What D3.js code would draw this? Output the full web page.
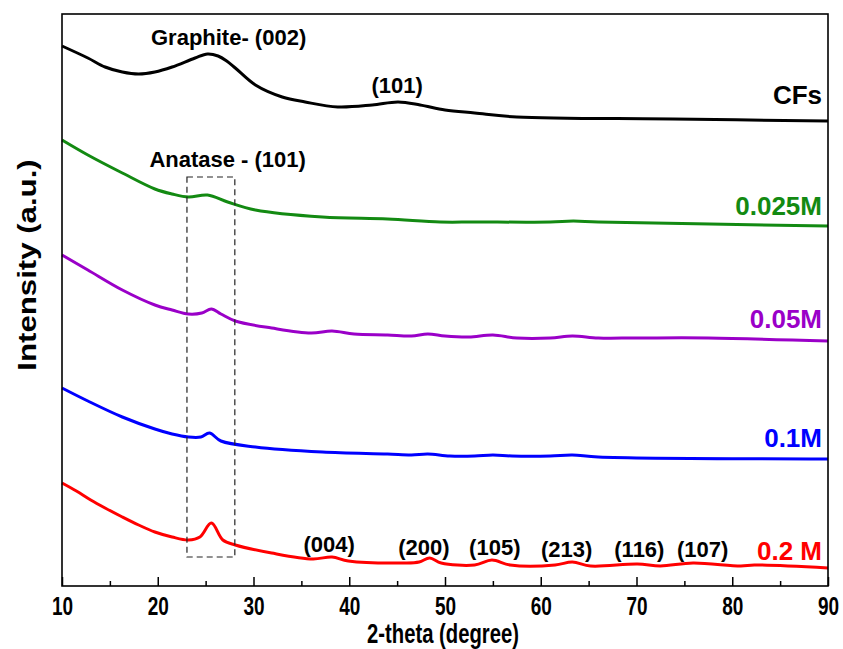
<!DOCTYPE html>
<html>
<head>
<meta charset="utf-8">
<script src="https://cdn.jsdelivr.net/npm/d3@7"></script>
<style>
  html, body { margin: 0; padding: 0; background: #fff; }
  svg text { font-family: "Liberation Sans", Arial, sans-serif; font-weight: bold; }
</style>
</head>
<body>
<div id="chart"></div>
<script>
// 2-theta / intensity (a.u., stacked)
const cfsTheta   = [10, 12.7, 14.5, 16.3, 18.0, 19.7, 21.5, 23.9, 25.2, 26.3, 27.2, 28.1, 30.2, 33.0, 35.4, 38.8, 42.4, 45.1, 47.4, 50, 53.1, 57.5, 73.8, 90];
const cfsInt     = [540, 528, 519, 514, 512, 514, 519, 528, 532, 530, 525, 518, 501, 489, 484, 479, 481, 484, 481, 476, 473, 469, 467, 465];

const m025Theta  = [10, 12.7, 16.3, 19.7, 21.5, 23.2, 25.2, 27.3, 30.2, 37.2, 44.0, 49.5, 53.1, 61, 63.4, 66, 90];
const m025Int    = [446, 431, 413, 397, 392, 389, 391, 384, 376, 369, 367, 364, 364, 364, 365, 364, 360];

const m05Theta   = [10, 12.7, 16.3, 19.7, 21.5, 23.2, 24.6, 25.6, 26.6, 28.1, 31.9, 36.0, 38.2, 40.5, 44.0, 46.5, 48.2, 50, 52.5, 55.0, 57.5, 61, 63.3, 66, 70, 77.5, 90];
const m05Int     = [331, 316, 296, 281, 276, 272, 273, 277, 272, 265, 258, 253, 255, 252, 251, 250, 252, 250, 249, 251, 248, 248, 250, 248, 248, 248, 245];

const m1Theta    = [10, 12.7, 16.3, 19.7, 21.5, 23.2, 24.5, 25.4, 26.6, 30.2, 37.2, 44.0, 46.5, 48.2, 50.5, 53.1, 55.0, 57, 61, 63.3, 66, 90];
const m1Int      = [198, 185, 169, 157, 152, 149, 149, 153, 145, 139, 134, 132, 131, 132, 130, 130, 131, 130, 130, 131, 129, 127];

const m2Theta    = [10, 11.5, 13, 14.5, 16.3, 18, 19.7, 21.5, 23.2, 24.4, 25.6, 26.8, 28.1, 31.9, 36.2, 38.2, 39.9, 45.8, 47.3, 48.4, 49.6, 53.1, 54.9, 56.8, 61.5, 63.3, 65.2, 70.1, 72.5, 75.9, 80.9, 82.3, 90];
const m2Int      = [103, 95, 86, 78, 69, 61, 54, 49, 46, 49, 63, 46, 41, 33, 27, 29, 25, 23, 24, 28, 23, 21, 26, 21, 21, 24, 20, 22, 20, 23, 20, 21, 18];

const seriesNames  = ['CFs', '0.025M', '0.05M', '0.1M', '0.2 M'];
const seriesColors = ['#000000', '#138a12', '#9a00c8', '#0000ff', '#ff0000'];
const seriesTheta  = [cfsTheta, m025Theta, m05Theta, m1Theta, m2Theta];
const seriesInt    = [cfsInt, m025Int, m05Int, m1Int, m2Int];
const nameAnchorInt = [482, 371, 258, 139, 26];

// peak annotations: label, 2-theta, intensity of label baseline
const peakLabels = ['Graphite- (002)', '(101)', 'Anatase - (101)', '(004)', '(200)', '(105)', '(213)', '(116)', '(107)'];
const peakTheta  = [27.4, 45.0, 27.3, 37.9, 47.8, 55.2, 62.7, 70.3, 76.9];
const peakInt    = [541, 493, 419, 34, 31, 31, 29, 29, 29];

// dashed box around anatase (101)
const boxTheta = [23.05, 28.05];
const boxInt   = [29, 409];

const majorTicks = [10, 20, 30, 40, 50, 60, 70, 80, 90];
const minorTicks = [15, 25, 35, 45, 55, 65, 75, 85];

const width = 843, height = 649;
const margin = { top: 14, right: 15, bottom: 63, left: 62 };
const innerWidth = width - margin.left - margin.right;
const innerHeight = height - margin.top - margin.bottom;

const svg = d3.select('#chart').append('svg')
  .attr('width', width)
  .attr('height', height);

const chart = svg.append('g')
  .attr('transform', `translate(${margin.left},${margin.top})`);

const xScale = d3.scaleLinear().domain([10, 90]).range([0, innerWidth]);
const yScale = d3.scaleLinear().domain([0, 572]).range([innerHeight, 0]);

// curves
const line = d3.line()
  .x(d => xScale(d[0]))
  .y(d => yScale(d[1]))
  .curve(d3.curveCatmullRom.alpha(0.5));

seriesNames.forEach((name, i) => {
  const pts = seriesTheta[i].map((t, j) => [t, seriesInt[i][j]]);
  chart.append('path')
    .datum(pts)
    .attr('fill', 'none')
    .attr('stroke', seriesColors[i])
    .attr('stroke-width', 3)
    .attr('stroke-linejoin', 'round')
    .attr('d', line);

  chart.append('text')
    .attr('x', innerWidth - 6)
    .attr('y', yScale(nameAnchorInt[i]))
    .attr('text-anchor', 'end')
    .attr('fill', seriesColors[i])
    .style('font-size', '26px')
    .text(name);
});

// dashed box
chart.append('rect')
  .attr('x', xScale(boxTheta[0]))
  .attr('y', yScale(boxInt[1]))
  .attr('width', xScale(boxTheta[1]) - xScale(boxTheta[0]))
  .attr('height', yScale(boxInt[0]) - yScale(boxInt[1]))
  .attr('fill', 'none')
  .attr('stroke', '#222')
  .attr('stroke-width', 1.2)
  .attr('stroke-dasharray', '6,4');

// peak labels
chart.selectAll('.peak')
  .data(peakLabels)
  .enter()
  .append('text')
  .attr('class', 'peak')
  .attr('x', (d, i) => xScale(peakTheta[i]))
  .attr('y', (d, i) => yScale(peakInt[i]))
  .attr('text-anchor', 'middle')
  .style('font-size', '22px')
  .attr('fill', '#000')
  .text(d => d);

// axes
const xG = chart.append('g')
  .attr('transform', `translate(0,${innerHeight})`)
  .call(d3.axisBottom(xScale).tickValues(majorTicks).tickSizeInner(-9).tickSizeOuter(0).tickPadding(11));

const xMinor = chart.append('g')
  .attr('transform', `translate(0,${innerHeight})`)
  .call(d3.axisBottom(xScale).tickValues(minorTicks).tickSizeInner(-5).tickSizeOuter(0).tickFormat(''));

[xG, xMinor].forEach(g => {
  g.select('.domain').remove();
  g.selectAll('line').attr('stroke', '#000').attr('stroke-width', 1.5);
});
// condensed look of the original tick labels
xG.selectAll('text')
  .attr('fill', '#000')
  .attr('transform', 'scale(0.76,1)')
  .style('font-size', '25px');

// frame
chart.append('rect')
  .attr('width', innerWidth)
  .attr('height', innerHeight)
  .attr('fill', 'none')
  .attr('stroke', '#000')
  .attr('stroke-width', 1.6);

// axis titles
svg.append('text')
  .attr('transform', `translate(${margin.left + innerWidth / 2 - 2},643) scale(0.75,1)`)
  .attr('text-anchor', 'middle')
  .style('font-size', '27px')
  .text('2-theta (degree)');

svg.append('text')
  .attr('transform', `translate(36,${margin.top + 251}) rotate(-90) scale(1.2,1)`)
  .attr('text-anchor', 'middle')
  .style('font-size', '26px')
  .text('Intensity (a.u.)');
</script>
</body>
</html>
